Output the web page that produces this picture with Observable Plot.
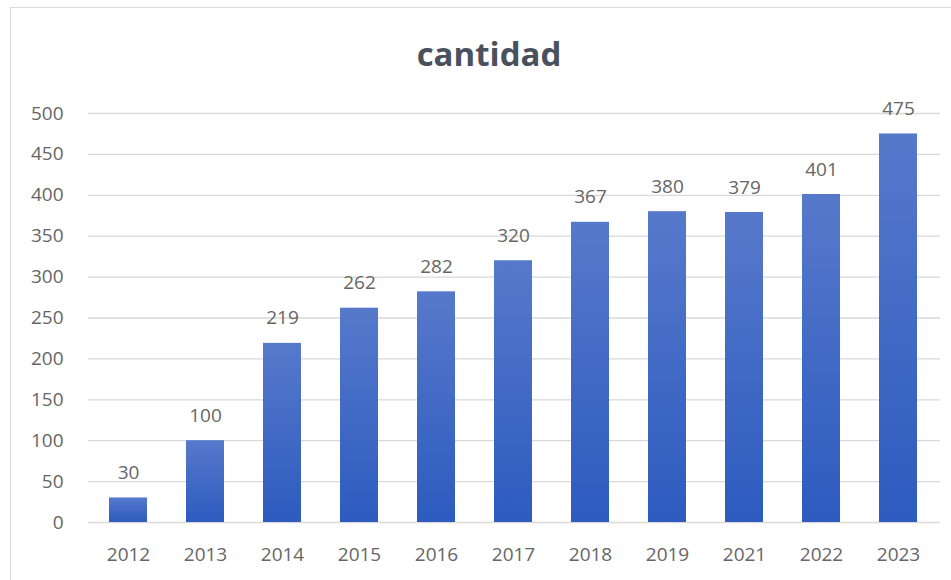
<!DOCTYPE html>
<html>
<head>
<meta charset="utf-8">
<script src="https://cdn.jsdelivr.net/npm/d3@7"></script>
<script src="https://cdn.jsdelivr.net/npm/@observablehq/plot@0.6"></script>
<style>
  html, body { margin: 0; padding: 0; background: #fff; overflow: hidden; }
  #wrap { position: relative; width: 951px; height: 580px; }
  #frame { position: absolute; left: 10px; top: 7px; width: 960px; height: 600px; border: 1px solid #d9d9d9; box-sizing: border-box; }
  #title { position: absolute; left: 0; width: 978px; top: 34px; text-align: center; font-family: "Open Sans", sans-serif; font-weight: 700; font-size: 33px; color: #4a505c; line-height: 40px; }
  #chart { position: absolute; left: 0; top: 0; }
</style>
</head>
<body>
<div id="wrap">
  <div id="frame"></div>
  <div id="title">cantidad</div>
  <div id="chart"></div>
</div>
<script>
const years = ["2012","2013","2014","2015","2016","2017","2018","2019","2021","2022","2023"];
const values = [30, 100, 219, 262, 282, 320, 367, 380, 379, 401, 475];
const yTicks = [0, 50, 100, 150, 200, 250, 300, 350, 400, 450, 500];

const data = years.map((y, i) => ({year: y, value: values[i]}));

const plot = Plot.plot({
  width: 951,
  height: 580,
  marginLeft: 88,
  marginRight: 11,
  marginTop: 113,
  marginBottom: 58,
  style: { fontFamily: "'Open Sans', sans-serif", background: "transparent", color: "#666" },
  x: { domain: years, range: [105, 921], paddingInner: 0.51, paddingOuter: 0, label: null },
  y: { domain: [0, 500], ticks: yTicks, label: null },
  marks: [
    Plot.ruleY(yTicks, { y: d => d, stroke: "#d9d9d9", strokeWidth: 1.3 }),
    Plot.barY(data, { x: "year", y: "value", fill: "url(#barGrad)" }),
    Plot.text(data, { x: "year", y: "value", text: d => String(d.value), dy: -25, fill: "#666", fontSize: 19, textAnchor: "middle" }),
    Plot.axisX({ tickSize: 0, tickPadding: 25, fontSize: 19, fill: "#666" }),
    Plot.axisY({ ticks: yTicks, tickSize: 0, tickPadding: 25, fontSize: 19, fill: "#666" })
  ]
});

const ns = "http://www.w3.org/2000/svg";
const defs = document.createElementNS(ns, "defs");
const grad = document.createElementNS(ns, "linearGradient");
grad.setAttribute("id", "barGrad");
grad.setAttribute("x1", "0"); grad.setAttribute("y1", "0");
grad.setAttribute("x2", "0"); grad.setAttribute("y2", "1");
[["0%", "#5679cb"], ["100%", "#2d5bbf"]].forEach(([o, c]) => {
  const s = document.createElementNS(ns, "stop");
  s.setAttribute("offset", o);
  s.setAttribute("stop-color", c);
  grad.appendChild(s);
});
defs.appendChild(grad);
plot.insertBefore(defs, plot.firstChild);

document.getElementById("chart").appendChild(plot);
</script>
</body>
</html>
